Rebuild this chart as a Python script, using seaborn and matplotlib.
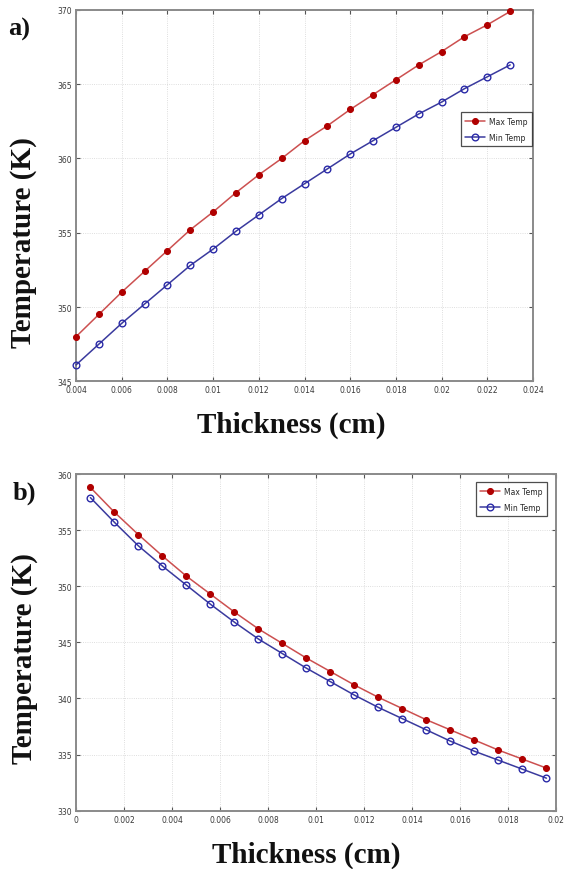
import numpy as np
import pandas as pd
import seaborn as sns
import matplotlib
matplotlib.use("Agg")
import matplotlib.pyplot as plt

# panel a) - temperature rising with thickness
thick_a = [0.004, 0.005, 0.006, 0.007, 0.008, 0.009, 0.010, 0.011, 0.012, 0.013,
           0.014, 0.015, 0.016, 0.017, 0.018, 0.019, 0.020, 0.021, 0.022, 0.023]
max_a = [348.0, 349.5, 351.0, 352.4, 353.8, 355.2, 356.4, 357.7, 358.9, 360.0,
         361.2, 362.2, 363.3, 364.3, 365.3, 366.3, 367.2, 368.2, 369.0, 369.9]
min_a = [346.1, 347.5, 348.9, 350.2, 351.5, 352.8, 353.9, 355.1, 356.2, 357.3,
         358.3, 359.3, 360.3, 361.2, 362.1, 363.0, 363.8, 364.7, 365.5, 366.3]

# panel b) - temperature falling with thickness
thick_b = [0.0006, 0.0016, 0.0026, 0.0036, 0.0046, 0.0056, 0.0066, 0.0076, 0.0086, 0.0096,
           0.0106, 0.0116, 0.0126, 0.0136, 0.0146, 0.0156, 0.0166, 0.0176, 0.0186, 0.0196]
max_b = [358.8, 356.6, 354.6, 352.7, 350.9, 349.3, 347.7, 346.2, 344.9, 343.6,
         342.4, 341.2, 340.1, 339.1, 338.1, 337.2, 336.3, 335.4, 334.6, 333.8]
min_b = [357.9, 355.7, 353.6, 351.8, 350.1, 348.4, 346.8, 345.3, 344.0, 342.7,
         341.5, 340.3, 339.2, 338.2, 337.2, 336.2, 335.3, 334.5, 333.7, 332.9]

xticks_a = [0.004, 0.006, 0.008, 0.01, 0.012, 0.014, 0.016, 0.018, 0.02, 0.022, 0.024]
xticklabels_a = ["0.004", "0.006", "0.008", "0.01", "0.012", "0.014", "0.016", "0.018", "0.02", "0.022", "0.024"]
yticks_a = [345, 350, 355, 360, 365, 370]
xticks_b = [0, 0.002, 0.004, 0.006, 0.008, 0.01, 0.012, 0.014, 0.016, 0.018, 0.02]
xticklabels_b = ["0", "0.002", "0.004", "0.006", "0.008", "0.01", "0.012", "0.014", "0.016", "0.018", "0.02"]
yticks_b = [330, 335, 340, 345, 350, 355, 360]

sns.set_style("white")

fig = plt.figure(figsize=(5.65, 8.7), dpi=100)
ax_a = fig.add_axes([0.1345, 0.5606, 0.8089, 0.4268])
ax_b = fig.add_axes([0.1345, 0.0670, 0.8496, 0.3870])

red_line, red_mark = "#cc5050", "#b00000"
blue_line, blue_mark = "#3a3a9e", "#2a2aa8"


def draw(ax, x, ymax, ymin):
    df = pd.DataFrame({"x": x, "max": ymax, "min": ymin})
    sns.lineplot(data=df, x="x", y="max", ax=ax, color=red_line, lw=1.1,
                 marker="o", markersize=4.3, markerfacecolor=red_mark,
                 markeredgecolor=red_mark, label="Max Temp", clip_on=False, zorder=3)
    sns.lineplot(data=df, x="x", y="min", ax=ax, color=blue_line, lw=1.1,
                 marker="o", markersize=4.8, markerfacecolor="none",
                 markeredgecolor=blue_mark, markeredgewidth=1.0, label="Min Temp",
                 clip_on=False, zorder=3)


def style(ax, xt, xtl, yt, xlim, ylim):
    ax.set_xlim(*xlim)
    ax.set_ylim(*ylim)
    ax.set_xticks(xt)
    ax.set_xticklabels(xtl)
    ax.set_yticks(yt)
    ax.grid(True, ls=":", lw=0.6, color="#d4d4d4")
    ax.tick_params(direction="in", length=3, width=0.8, colors="#555555",
                   labelsize=5.5, labelcolor="#3a3a3a", top=True, right=True,
                   bottom=True, left=True, pad=3)
    for sp in ax.spines.values():
        sp.set_color("#8a8a8a")
        sp.set_linewidth(1.4)
    ax.set_xlabel("Thickness (cm)", family="Liberation Serif", fontweight="bold",
                  fontsize=21, color="#111111")
    ax.set_ylabel("Temperature (K)", family="Liberation Serif", fontweight="bold",
                  fontsize=21, color="#111111")


draw(ax_a, thick_a, max_a, min_a)
style(ax_a, xticks_a, xticklabels_a, yticks_a, (0.004, 0.024), (345, 370))
ax_a.xaxis.set_label_coords(0.47, -0.115)
ax_a.yaxis.set_label_coords(-0.114, 0.375)
ax_a.yaxis.label.set_va("center")
ax_a.xaxis.label.set_va("center")

draw(ax_b, thick_b, max_b, min_b)
style(ax_b, xticks_b, xticklabels_b, yticks_b, (0, 0.02), (330, 360))
ax_b.xaxis.set_label_coords(0.48, -0.13)
ax_b.yaxis.set_label_coords(-0.108, 0.456)
ax_b.yaxis.label.set_va("center")
ax_b.xaxis.label.set_va("center")

for ax, anchor in [(ax_a, (0.998, 0.725)), (ax_b, (0.981, 0.976))]:
    leg = ax.legend(loc="upper right", bbox_to_anchor=anchor, fontsize=5.5,
                    frameon=True, fancybox=False, handlelength=2.6,
                    borderpad=0.6, labelspacing=0.9, handletextpad=0.5,
                    borderaxespad=0)
    leg.get_frame().set_edgecolor("#222222")
    leg.get_frame().set_linewidth(0.9)
    leg.set_zorder(5)

fig.text(19 / 565, 1 - 29 / 870, "a)", family="Liberation Serif", fontweight="bold",
         fontsize=19, ha="center", va="center", color="#111111")
fig.text(24 / 565, 1 - 493 / 870, "b)", family="Liberation Serif", fontweight="bold",
         fontsize=19, ha="center", va="center", color="#111111")

fig.savefig("out.png", dpi=100)
